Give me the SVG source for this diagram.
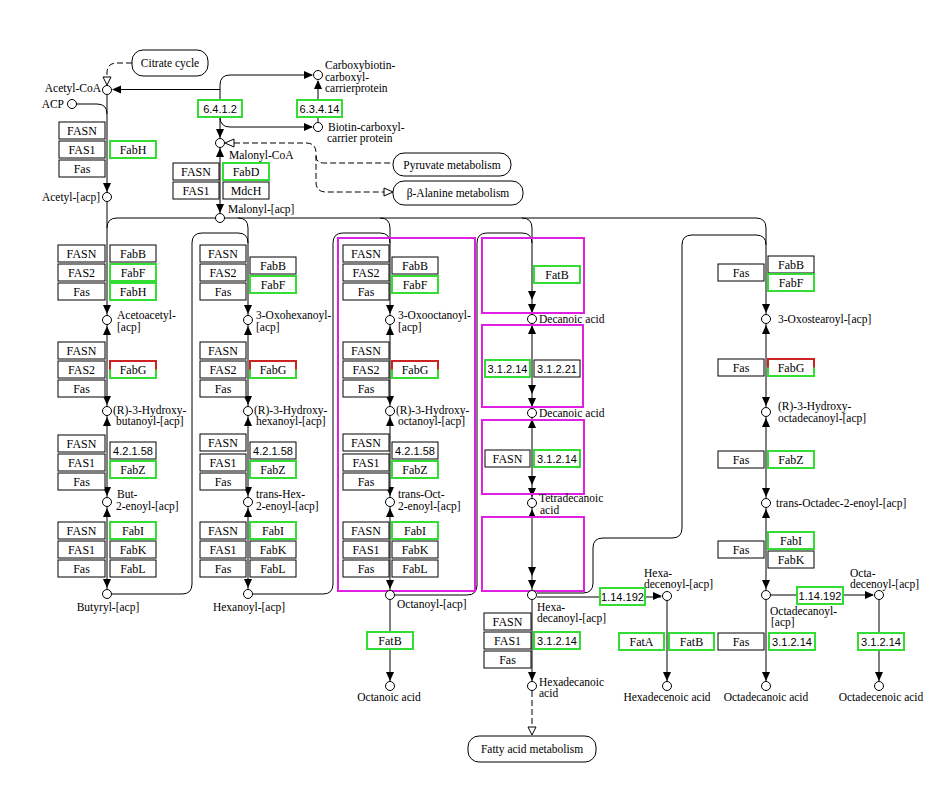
<svg xmlns="http://www.w3.org/2000/svg" xmlns:xlink="http://www.w3.org/1999/xlink" width="950" height="797" viewBox="0 0 950 797">
<style>
.b{fill:#fff;stroke:#000;stroke-width:1}
.g{fill:#fff;stroke:#33dd33;stroke-width:2}
.r{fill:none;stroke:#cc2222;stroke-width:2}
.m{fill:none;stroke:#e020e0;stroke-width:2}
.p{fill:#fff;stroke:#000;stroke-width:1}
.c{fill:#fff;stroke:#000;stroke-width:1}
.ln{fill:none;stroke:#000;stroke-width:1}
.ds{fill:none;stroke:#000;stroke-width:1;stroke-dasharray:6,3}
.e{font-family:"Liberation Serif",serif;font-size:12px;text-anchor:middle;fill:#000}
.ec{font-family:"Liberation Sans",sans-serif;font-size:11px;text-anchor:middle;fill:#000}
.l{font-family:"Liberation Serif",serif;font-size:11.5px;fill:#000}
.lm{font-family:"Liberation Serif",serif;font-size:11.5px;fill:#000;text-anchor:middle}
.le{font-family:"Liberation Serif",serif;font-size:11.5px;fill:#000;text-anchor:end}
.ah{fill:#000}
.ho{fill:#fff;stroke:#000;stroke-width:1}
</style>
<defs>
<path id="ad" class="ah" d="M-4,-9 L4,-9 L0,0 Z"/>
<path id="au" class="ah" d="M-4,9 L4,9 L0,0 Z"/>
<path id="ar" class="ah" d="M-9,-4 L-9,4 L0,0 Z"/>
<path id="al" class="ah" d="M9,-4 L9,4 L0,0 Z"/>
</defs>
<rect width="950" height="797" fill="#fff"/>

<g id="connectors">
<!-- top -->
<path class="ds" d="M132,63 H117 Q107,63 107,73 V77"/>
<path class="ho" d="M103,77 L111,77 L107,85 Z"/>
<path class="ln" d="M113,89.5 H220"/>
<use xlink:href="#al" x="112" y="89.5"/>
<path class="ln" d="M220,138 V85 Q220,75 230,75 H312"/>
<use xlink:href="#ar" x="313" y="75"/>
<path class="ln" d="M220,117 Q220,127 230,127 H312"/>
<use xlink:href="#ar" x="313" y="127"/>
<use xlink:href="#ad" x="220" y="138"/>
<path class="ln" d="M318,122 V81"/>
<use xlink:href="#au" x="318" y="80"/>
<path class="ln" d="M76,104 H97 Q107,104 107,114"/>
<path class="ds" d="M234,143 H306 Q316,143 316,153 V182 Q316,192 326,192 H384"/>
<path class="ds" d="M316,156 Q316,163 324,163 H393"/>
<path class="ho" d="M234,139 L234,147 L225,143 Z"/>
<path class="ho" d="M384,188 L384,196 L393,192 Z"/>
<path class="ln" d="M220,148 V213"/>
<use xlink:href="#au" x="220" y="148"/>
<use xlink:href="#ad" x="220" y="213"/>
<!-- column 1 -->
<path class="ln" d="M107,95 V589"/>
<use xlink:href="#ad" x="107" y="192"/>
<!-- bus -->
<path class="ln" d="M107,228 Q107,218 117,218 H756 Q766,218 766,228"/>
<path class="ln" d="M238,218 Q248,218 248,228"/>
<path class="ln" d="M380,218 Q390,218 390,228"/>
<path class="ln" d="M522,218 Q532,218 532,228"/>
<path class="ln" d="M248,228 V589"/>
<path class="ln" d="M390,228 V590"/>
<path class="ln" d="M532,228 V590"/>
<path class="ln" d="M766,228 V590"/>
<!-- loops -->
<path class="ln" d="M112,594 H182 Q192,594 192,584 V243 Q192,233 202,233 H238 Q248,233 248,243"/>
<path class="ln" d="M253,594 H323 Q333,594 333,584 V243 Q333,233 343,233 H380 Q390,233 390,243"/>
<path class="ln" d="M395,595 H467 Q477,595 477,585 V243 Q477,233 487,233 H522 Q532,233 532,243"/>
<path class="ln" d="M537,593 H583 Q593,593 593,583 V548 Q593,538 603,538 H672 Q682,538 682,528 V245 Q682,235 692,235 H756 Q766,235 766,245"/>
<!-- arrows cols 1-3 -->
<use xlink:href="#ad" x="107" y="314"/><use xlink:href="#au" x="107" y="326"/>
<use xlink:href="#ad" x="107" y="405"/><use xlink:href="#au" x="107" y="417"/>
<use xlink:href="#ad" x="107" y="496"/><use xlink:href="#au" x="107" y="508"/>
<use xlink:href="#ad" x="107" y="588"/>
<use xlink:href="#ad" x="248" y="314"/><use xlink:href="#au" x="248" y="326"/>
<use xlink:href="#ad" x="248" y="405"/><use xlink:href="#au" x="248" y="417"/>
<use xlink:href="#ad" x="248" y="496"/><use xlink:href="#au" x="248" y="508"/>
<use xlink:href="#ad" x="248" y="588"/>
<use xlink:href="#ad" x="390" y="314"/><use xlink:href="#au" x="390" y="326"/>
<use xlink:href="#ad" x="390" y="405"/><use xlink:href="#au" x="390" y="417"/>
<use xlink:href="#ad" x="390" y="496"/><use xlink:href="#au" x="390" y="508"/>
<use xlink:href="#ad" x="390" y="589"/>
<!-- col 4 -->
<use xlink:href="#ad" x="532" y="300"/><use xlink:href="#ad" x="532" y="313"/><use xlink:href="#au" x="532" y="325"/>
<use xlink:href="#ad" x="532" y="394"/><use xlink:href="#ad" x="532" y="407"/><use xlink:href="#au" x="532" y="419"/>
<use xlink:href="#ad" x="532" y="485"/><use xlink:href="#ad" x="532" y="497"/><use xlink:href="#au" x="532" y="509"/>
<use xlink:href="#ad" x="532" y="576"/><use xlink:href="#ad" x="532" y="589"/>
<!-- col 5 -->
<use xlink:href="#ad" x="766" y="313"/><use xlink:href="#au" x="766" y="325"/>
<use xlink:href="#ad" x="766" y="406"/><use xlink:href="#au" x="766" y="418"/>
<use xlink:href="#ad" x="766" y="497"/><use xlink:href="#au" x="766" y="509"/>
<use xlink:href="#ad" x="766" y="589"/>
<!-- bottom -->
<path class="ln" d="M537,597 H661"/>
<use xlink:href="#ar" x="662" y="596"/>
<path class="ln" d="M771,595 H873"/>
<use xlink:href="#ar" x="874" y="595"/>
<path class="ln" d="M390,600 V681"/><use xlink:href="#ad" x="390" y="681"/>
<path class="ln" d="M532,600 V681"/><use xlink:href="#ad" x="532" y="681"/>
<path class="ln" d="M667,600 V681"/><use xlink:href="#ad" x="667" y="681"/>
<path class="ln" d="M766,600 V681"/><use xlink:href="#ad" x="766" y="681"/>
<path class="ln" d="M879,600 V681"/><use xlink:href="#ad" x="879" y="681"/>
<path class="ds" d="M532,691 V727"/>
<path class="ho" d="M528,727 L536,727 L532,735 Z"/>
</g>

<!-- magenta highlight frames -->
<g id="highlights">
<rect class="m" x="338" y="238" width="137" height="353"/>
<rect class="m" x="482" y="238" width="102" height="75"/>
<rect class="m" x="482" y="325" width="101" height="82"/>
<rect class="m" x="482" y="420" width="102" height="74"/>
<rect class="m" x="482" y="517" width="102" height="74"/>
</g>

<!-- pathway maps -->
<g id="map-citrate"><rect class="p" x="132" y="50" width="76" height="26" rx="11"/><text class="lm" x="170" y="67">Citrate cycle</text></g>
<g id="map-pyruvate"><rect class="p" x="393" y="153" width="118" height="23" rx="11"/><text class="lm" x="452" y="169">Pyruvate metabolism</text></g>
<g id="map-alanine"><rect class="p" x="393" y="181" width="130" height="24" rx="11"/><text class="lm" x="458" y="197">β-Alanine metabolism</text></g>
<g id="map-fatty"><rect class="p" x="468" y="736" width="128" height="26" rx="11"/><text class="lm" x="532" y="753">Fatty acid metabolism</text></g>

<!-- compounds -->
<g id="c-acetylcoa"><circle class="c" cx="107" cy="90" r="4.5"/><text class="le" x="101" y="92">Acetyl-CoA</text></g>
<g id="c-acp"><circle class="c" cx="72" cy="104" r="4.5"/><text class="le" x="64" y="108">ACP</text></g>
<g id="c-acetylacp"><circle class="c" cx="107" cy="197" r="4.5"/><text class="le" x="100" y="201">Acetyl-[acp]</text></g>
<g id="c-carboxybiotin"><circle class="c" cx="318" cy="75" r="4.5"/><text class="l" x="325" y="69">Carboxybiotin-</text><text class="l" x="325" y="81">carboxyl-</text><text class="l" x="325" y="92">carrierprotein</text></g>
<g id="c-biotin"><circle class="c" cx="318" cy="127" r="4.5"/><text class="l" x="328" y="131">Biotin-carboxyl-</text><text class="l" x="327" y="142">carrier protein</text></g>
<g id="c-malonylcoa"><circle class="c" cx="220" cy="143" r="4.5"/><text class="l" x="229" y="159">Malonyl-CoA</text></g>
<g id="c-malonylacp"><circle class="c" cx="220" cy="218" r="4.5"/><text class="l" x="228" y="213">Malonyl-[acp]</text></g>

<g id="c-acetoacetyl"><circle class="c" cx="107" cy="320" r="4.5"/><text class="l" x="117" y="319">Acetoacetyl-</text><text class="l" x="117" y="331">[acp]</text></g>
<g id="c-hydroxybutanoyl"><circle class="c" cx="107" cy="411" r="4.5"/><text class="l" x="113" y="414">(R)-3-Hydroxy-</text><text class="l" x="116" y="425">butanoyl-[acp]</text></g>
<g id="c-butenoyl"><circle class="c" cx="107" cy="502" r="4.5"/><text class="l" x="117" y="498">But-</text><text class="l" x="116" y="510">2-enoyl-[acp]</text></g>
<g id="c-butyryl"><circle class="c" cx="107" cy="594" r="4.5"/><text class="lm" x="108" y="611">Butyryl-[acp]</text></g>

<g id="c-oxohexanoyl"><circle class="c" cx="248" cy="320" r="4.5"/><text class="l" x="256" y="319">3-Oxohexanoyl-</text><text class="l" x="256" y="331">[acp]</text></g>
<g id="c-hydroxyhexanoyl"><circle class="c" cx="248" cy="411" r="4.5"/><text class="l" x="254" y="414">(R)-3-Hydroxy-</text><text class="l" x="256" y="425">hexanoyl-[acp]</text></g>
<g id="c-hexenoyl"><circle class="c" cx="248" cy="502" r="4.5"/><text class="l" x="256" y="498">trans-Hex-</text><text class="l" x="256" y="510">2-enoyl-[acp]</text></g>
<g id="c-hexanoyl"><circle class="c" cx="248" cy="594" r="4.5"/><text class="lm" x="249" y="611">Hexanoyl-[acp]</text></g>

<g id="c-oxooctanoyl"><circle class="c" cx="390" cy="320" r="4.5"/><text class="l" x="398" y="319">3-Oxooctanoyl-</text><text class="l" x="398" y="331">[acp]</text></g>
<g id="c-hydroxyoctanoyl"><circle class="c" cx="390" cy="411" r="4.5"/><text class="l" x="396" y="414">(R)-3-Hydroxy-</text><text class="l" x="398" y="425">octanoyl-[acp]</text></g>
<g id="c-octenoyl"><circle class="c" cx="390" cy="502" r="4.5"/><text class="l" x="398" y="498">trans-Oct-</text><text class="l" x="398" y="510">2-enoyl-[acp]</text></g>
<g id="c-octanoyl"><circle class="c" cx="390" cy="595" r="4.5"/><text class="l" x="397" y="608">Octanoyl-[acp]</text></g>
<g id="c-octanoic"><circle class="c" cx="390" cy="686" r="4.5"/><text class="lm" x="389" y="701">Octanoic acid</text></g>

<g id="c-decanoic1"><circle class="c" cx="532" cy="319" r="4.5"/><text class="l" x="539" y="323">Decanoic acid</text></g>
<g id="c-decanoic2"><circle class="c" cx="532" cy="413" r="4.5"/><text class="l" x="539" y="417">Decanoic acid</text></g>
<g id="c-tetradecanoic"><circle class="c" cx="532" cy="503" r="4.5"/><text class="l" x="539" y="502">Tetradecanoic</text><text class="l" x="540" y="514">acid</text></g>
<g id="c-hexadecanoyl"><circle class="c" cx="532" cy="595" r="4.5"/><text class="l" x="537" y="611">Hexa-</text><text class="l" x="537" y="622">decanoyl-[acp]</text></g>
<g id="c-hexadecanoic"><circle class="c" cx="532" cy="686" r="4.5"/><text class="l" x="539" y="686">Hexadecanoic</text><text class="l" x="539" y="697">acid</text></g>

<g id="c-hexadecenoyl"><circle class="c" cx="667" cy="596" r="4.5"/><text class="l" x="644" y="577">Hexa-</text><text class="l" x="644" y="588">decenoyl-[acp]</text></g>
<g id="c-hexadecenoic"><circle class="c" cx="667" cy="686" r="4.5"/><text class="lm" x="667" y="701">Hexadecenoic acid</text></g>

<g id="c-oxostearoyl"><circle class="c" cx="766" cy="319" r="4.5"/><text class="l" x="778" y="323">3-Oxostearoyl-[acp]</text></g>
<g id="c-hydroxyoctadecanoyl"><circle class="c" cx="766" cy="412" r="4.5"/><text class="l" x="778" y="410">(R)-3-Hydroxy-</text><text class="l" x="778" y="422">octadecanoyl-[acp]</text></g>
<g id="c-octadecenoylacp2"><circle class="c" cx="766" cy="503" r="4.5"/><text class="l" x="776" y="507">trans-Octadec-2-enoyl-[acp]</text></g>
<g id="c-octadecanoyl"><circle class="c" cx="766" cy="595" r="4.5"/><text class="l" x="770" y="615">Octadecanoyl-</text><text class="l" x="771" y="626">[acp]</text></g>
<g id="c-octadecanoic"><circle class="c" cx="766" cy="686" r="4.5"/><text class="lm" x="766" y="701">Octadecanoic acid</text></g>
<g id="c-octadecenoyl"><circle class="c" cx="879" cy="595" r="4.5"/><text class="l" x="850" y="577">Octa-</text><text class="l" x="850" y="588">decenoyl-[acp]</text></g>
<g id="c-octadecenoic"><circle class="c" cx="879" cy="686" r="4.5"/><text class="lm" x="881" y="701">Octadecenoic acid</text></g>

<!-- enzymes top -->
<g id="e-6412"><rect class="g" x="198" y="100" width="44" height="17"/><text class="ec" x="220" y="113">6.4.1.2</text></g>
<g id="e-63414"><rect class="g" x="297" y="100" width="45" height="17"/><text class="ec" x="319.5" y="113">6.3.4.14</text></g>
<g id="e-fabh-grp">
<rect class="b" x="59" y="122" width="46" height="17"/><text class="e" x="82" y="135">FASN</text>
<rect class="b" x="59" y="141" width="46" height="17"/><text class="e" x="82" y="154">FAS1</text>
<rect class="b" x="59" y="160" width="46" height="17"/><text class="e" x="82" y="173">Fas</text>
<rect class="g" x="110" y="141" width="46" height="17"/><text class="e" x="133" y="154">FabH</text>
</g>
<g id="e-fabd-grp">
<rect class="b" x="173" y="163" width="46" height="17"/><text class="e" x="196" y="176">FASN</text>
<rect class="b" x="173" y="182" width="46" height="17"/><text class="e" x="196" y="195">FAS1</text>
<rect class="g" x="223" y="163" width="46" height="17"/><text class="e" x="246" y="176">FabD</text>
<rect class="b" x="223" y="182" width="46" height="17"/><text class="e" x="246" y="195">MdcH</text>
</g>

<!-- column 1 enzymes -->
<g id="e-c1-kas">
<rect class="b" x="58" y="245" width="47" height="17"/><text class="e" x="81.5" y="258">FASN</text>
<rect class="b" x="58" y="264" width="47" height="17"/><text class="e" x="81.5" y="277">FAS2</text>
<rect class="b" x="58" y="283" width="47" height="17"/><text class="e" x="81.5" y="296">Fas</text>
<rect class="b" x="110" y="245" width="46" height="17"/><text class="e" x="133" y="258">FabB</text>
<rect class="g" x="110" y="264" width="46" height="17"/><text class="e" x="133" y="277">FabF</text>
<rect class="g" x="110" y="283" width="46" height="17"/><text class="e" x="133" y="296">FabH</text>
</g>
<g id="e-c1-kar">
<rect class="b" x="58" y="342" width="47" height="17"/><text class="e" x="81.5" y="355">FASN</text>
<rect class="b" x="58" y="361" width="47" height="17"/><text class="e" x="81.5" y="374">FAS2</text>
<rect class="b" x="58" y="380" width="47" height="17"/><text class="e" x="81.5" y="393">Fas</text>
<rect class="g" x="110" y="361" width="46" height="17"/><path class="r" d="M110,369.5 V361 H156 V369.5"/><text class="e" x="133" y="374">FabG</text>
</g>
<g id="e-c1-dh">
<rect class="b" x="58" y="435" width="47" height="17"/><text class="e" x="81.5" y="448">FASN</text>
<rect class="b" x="58" y="454" width="47" height="17"/><text class="e" x="81.5" y="467">FAS1</text>
<rect class="b" x="58" y="473" width="47" height="17"/><text class="e" x="81.5" y="486">Fas</text>
<rect class="b" x="110" y="442" width="46" height="17"/><text class="ec" x="133" y="455">4.2.1.58</text>
<rect class="g" x="110" y="461" width="46" height="17"/><text class="e" x="133" y="474">FabZ</text>
</g>
<g id="e-c1-er">
<rect class="b" x="58" y="522" width="47" height="17"/><text class="e" x="81.5" y="535">FASN</text>
<rect class="b" x="58" y="541" width="47" height="17"/><text class="e" x="81.5" y="554">FAS1</text>
<rect class="b" x="58" y="560" width="47" height="17"/><text class="e" x="81.5" y="573">Fas</text>
<rect class="g" x="110" y="522" width="46" height="17"/><text class="e" x="133" y="535">FabI</text>
<rect class="b" x="110" y="541" width="46" height="17"/><text class="e" x="133" y="554">FabK</text>
<rect class="b" x="110" y="560" width="46" height="17"/><text class="e" x="133" y="573">FabL</text>
</g>

<!-- column 2 enzymes -->
<g id="e-c2-kas">
<rect class="b" x="200" y="245" width="46" height="17"/><text class="e" x="223" y="258">FASN</text>
<rect class="b" x="200" y="264" width="46" height="17"/><text class="e" x="223" y="277">FAS2</text>
<rect class="b" x="200" y="283" width="46" height="17"/><text class="e" x="223" y="296">Fas</text>
<rect class="b" x="250" y="257" width="46" height="17"/><text class="e" x="273" y="270">FabB</text>
<rect class="g" x="250" y="276" width="46" height="17"/><text class="e" x="273" y="289">FabF</text>
</g>
<g id="e-c2-kar">
<rect class="b" x="200" y="342" width="46" height="17"/><text class="e" x="223" y="355">FASN</text>
<rect class="b" x="200" y="361" width="46" height="17"/><text class="e" x="223" y="374">FAS2</text>
<rect class="b" x="200" y="380" width="46" height="17"/><text class="e" x="223" y="393">Fas</text>
<rect class="g" x="250" y="361" width="46" height="17"/><path class="r" d="M250,369.5 V361 H296 V369.5"/><text class="e" x="273" y="374">FabG</text>
</g>
<g id="e-c2-dh">
<rect class="b" x="200" y="434" width="46" height="17"/><text class="e" x="223" y="447">FASN</text>
<rect class="b" x="200" y="454" width="46" height="17"/><text class="e" x="223" y="467">FAS1</text>
<rect class="b" x="200" y="473" width="46" height="17"/><text class="e" x="223" y="486">Fas</text>
<rect class="b" x="250" y="442" width="46" height="17"/><text class="ec" x="273" y="455">4.2.1.58</text>
<rect class="g" x="250" y="461" width="46" height="17"/><text class="e" x="273" y="474">FabZ</text>
</g>
<g id="e-c2-er">
<rect class="b" x="200" y="522" width="46" height="17"/><text class="e" x="223" y="535">FASN</text>
<rect class="b" x="200" y="541" width="46" height="17"/><text class="e" x="223" y="554">FAS1</text>
<rect class="b" x="200" y="560" width="46" height="17"/><text class="e" x="223" y="573">Fas</text>
<rect class="g" x="250" y="522" width="46" height="17"/><text class="e" x="273" y="535">FabI</text>
<rect class="b" x="250" y="541" width="46" height="17"/><text class="e" x="273" y="554">FabK</text>
<rect class="b" x="250" y="560" width="46" height="17"/><text class="e" x="273" y="573">FabL</text>
</g>

<!-- column 3 enzymes -->
<g id="e-c3-kas">
<rect class="b" x="343" y="245" width="46" height="17"/><text class="e" x="366" y="258">FASN</text>
<rect class="b" x="343" y="264" width="46" height="17"/><text class="e" x="366" y="277">FAS2</text>
<rect class="b" x="343" y="283" width="46" height="17"/><text class="e" x="366" y="296">Fas</text>
<rect class="b" x="392" y="257" width="46" height="17"/><text class="e" x="415" y="270">FabB</text>
<rect class="g" x="392" y="276" width="46" height="17"/><text class="e" x="415" y="289">FabF</text>
</g>
<g id="e-c3-kar">
<rect class="b" x="343" y="342" width="46" height="17"/><text class="e" x="366" y="355">FASN</text>
<rect class="b" x="343" y="361" width="46" height="17"/><text class="e" x="366" y="374">FAS2</text>
<rect class="b" x="343" y="380" width="46" height="17"/><text class="e" x="366" y="393">Fas</text>
<rect class="g" x="392" y="361" width="46" height="17"/><path class="r" d="M392,369.5 V361 H438 V369.5"/><text class="e" x="415" y="374">FabG</text>
</g>
<g id="e-c3-dh">
<rect class="b" x="343" y="434" width="46" height="17"/><text class="e" x="366" y="447">FASN</text>
<rect class="b" x="343" y="454" width="46" height="17"/><text class="e" x="366" y="467">FAS1</text>
<rect class="b" x="343" y="473" width="46" height="17"/><text class="e" x="366" y="486">Fas</text>
<rect class="b" x="392" y="442" width="46" height="17"/><text class="ec" x="415" y="455">4.2.1.58</text>
<rect class="g" x="392" y="461" width="46" height="17"/><text class="e" x="415" y="474">FabZ</text>
</g>
<g id="e-c3-er">
<rect class="b" x="343" y="522" width="46" height="17"/><text class="e" x="366" y="535">FASN</text>
<rect class="b" x="343" y="541" width="46" height="17"/><text class="e" x="366" y="554">FAS1</text>
<rect class="b" x="343" y="560" width="46" height="17"/><text class="e" x="366" y="573">Fas</text>
<rect class="g" x="392" y="522" width="46" height="17"/><text class="e" x="415" y="535">FabI</text>
<rect class="b" x="392" y="541" width="46" height="17"/><text class="e" x="415" y="554">FabK</text>
<rect class="b" x="392" y="560" width="46" height="17"/><text class="e" x="415" y="573">FabL</text>
</g>
<g id="e-c3-fatb"><rect class="g" x="367" y="632" width="46" height="17"/><text class="e" x="390" y="645">FatB</text></g>

<!-- column 4 enzymes -->
<g id="e-c4-fatb"><rect class="g" x="534" y="266" width="46" height="17"/><text class="e" x="557" y="279">FatB</text></g>
<g id="e-c4-te1">
<rect class="g" x="485" y="360" width="45" height="17"/><text class="ec" x="507.5" y="373">3.1.2.14</text>
<rect class="b" x="534" y="360" width="46" height="17"/><text class="ec" x="557" y="373">3.1.2.21</text>
</g>
<g id="e-c4-te2">
<rect class="b" x="485" y="450" width="45" height="17"/><text class="e" x="507.5" y="463">FASN</text>
<rect class="g" x="534" y="450" width="46" height="17"/><text class="ec" x="557" y="463">3.1.2.14</text>
</g>
<g id="e-c4-te3">
<rect class="b" x="484" y="613" width="47" height="17"/><text class="e" x="507.5" y="626">FASN</text>
<rect class="b" x="484" y="632" width="47" height="17"/><text class="e" x="507.5" y="645">FAS1</text>
<rect class="b" x="484" y="651" width="47" height="17"/><text class="e" x="507.5" y="664">Fas</text>
<rect class="g" x="534" y="632" width="46" height="17"/><text class="ec" x="557" y="645">3.1.2.14</text>
</g>
<g id="e-desat1"><rect class="g" x="600" y="588" width="45" height="17"/><text class="ec" x="622.5" y="601">1.14.192</text></g>
<g id="e-fata-fatb">
<rect class="g" x="619" y="633" width="45" height="17"/><text class="e" x="641.5" y="646">FatA</text>
<rect class="g" x="669" y="633" width="45" height="17"/><text class="e" x="691.5" y="646">FatB</text>
</g>

<!-- column 5 enzymes -->
<g id="e-c5-kas">
<rect class="b" x="718" y="264" width="46" height="17"/><text class="e" x="741" y="277">Fas</text>
<rect class="b" x="768" y="256" width="46" height="17"/><text class="e" x="791" y="269">FabB</text>
<rect class="g" x="768" y="274" width="46" height="17"/><text class="e" x="791" y="287">FabF</text>
</g>
<g id="e-c5-kar">
<rect class="b" x="718" y="359" width="46" height="17"/><text class="e" x="741" y="372">Fas</text>
<rect class="g" x="768" y="359" width="46" height="17"/><path class="r" d="M768,367.5 V359 H814 V367.5"/><text class="e" x="791" y="372">FabG</text>
</g>
<g id="e-c5-dh">
<rect class="b" x="718" y="451" width="46" height="17"/><text class="e" x="741" y="464">Fas</text>
<rect class="g" x="768" y="451" width="46" height="17"/><text class="e" x="791" y="464">FabZ</text>
</g>
<g id="e-c5-er">
<rect class="b" x="718" y="541" width="46" height="17"/><text class="e" x="741" y="554">Fas</text>
<rect class="g" x="768" y="532" width="46" height="17"/><text class="e" x="791" y="545">FabI</text>
<rect class="b" x="768" y="551" width="46" height="17"/><text class="e" x="791" y="564">FabK</text>
</g>
<g id="e-desat2"><rect class="g" x="797" y="587" width="46" height="17"/><text class="ec" x="820" y="600">1.14.192</text></g>
<g id="e-c5-te">
<rect class="b" x="718" y="633" width="46" height="17"/><text class="e" x="741" y="646">Fas</text>
<rect class="g" x="769" y="633" width="46" height="17"/><text class="ec" x="792" y="646">3.1.2.14</text>
</g>
<g id="e-c6-te"><rect class="g" x="858" y="633" width="46" height="17"/><text class="ec" x="881" y="646">3.1.2.14</text></g>
</svg>
